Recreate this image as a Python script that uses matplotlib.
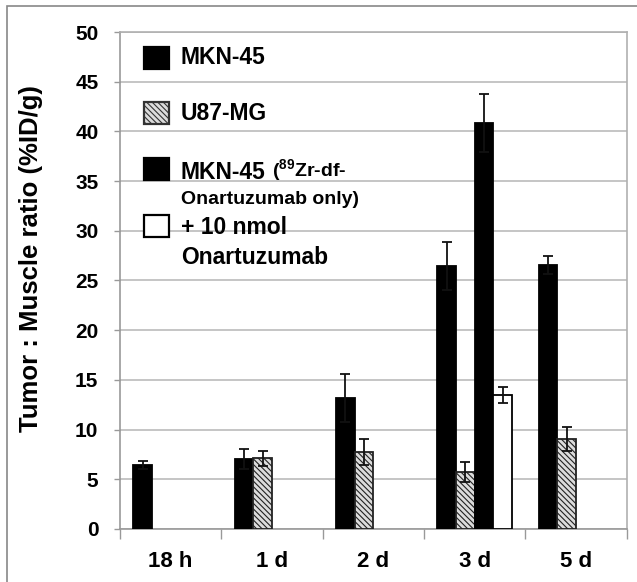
import numpy as np
import matplotlib.pyplot as plt
from matplotlib.patches import Rectangle

plt.rcParams['font.family'] = ['Liberation Sans', 'DejaVu Sans']
plt.rcParams['mathtext.fontset'] = 'custom'
plt.rcParams['mathtext.rm'] = 'Liberation Sans:bold'
plt.rcParams['mathtext.bf'] = 'Liberation Sans:bold'
plt.rcParams['hatch.linewidth'] = 0.8

groups = ['18 h', '1 d', '2 d', '3 d', '5 d']
nan = np.nan

mkn45 = [6.4, 7.0, 13.2, 26.45, 26.55]
mkn45_err = [0.4, 1.0, 2.4, 2.4, 0.9]
u87 = [nan, 7.1, 7.75, 5.7, 9.05]
u87_err = [nan, 0.75, 1.35, 1.0, 1.2]
mkn45_only = [nan, nan, nan, 40.85, nan]
mkn45_only_err = [nan, nan, nan, 2.9, nan]
blocked = [nan, nan, nan, 13.5, nan]
blocked_err = [nan, nan, nan, 0.8, nan]

fig = plt.figure(figsize=(6.37, 5.82), dpi=100)
ax = fig.add_axes([0.1884, 0.0911, 0.7954, 0.8539])

x = np.arange(len(groups))
w = 0.185
series = [
    (mkn45, mkn45_err, dict(color='black', edgecolor='black')),
    (u87, u87_err, dict(color='#dcdcdc', edgecolor='#222222', hatch='\\\\\\\\\\\\')),
    (mkn45_only, mkn45_only_err, dict(color='black', edgecolor='black')),
    (blocked, blocked_err, dict(color='white', edgecolor='black')),
]
for i, (vals, errs, st) in enumerate(series):
    pos = x - 0.2775 + w * i
    ax.bar(pos, vals, w, linewidth=1.3, zorder=3, **st)
    ax.errorbar(pos, vals, yerr=errs, fmt='none', ecolor='#111111',
                elinewidth=1.3, capsize=3.5, capthick=1.3, zorder=4)

ax.set_xlim(-0.5, 4.5)
ax.set_ylim(0, 50)
ax.set_yticks(range(0, 51, 5))
ax.set_yticklabels([str(v) for v in range(0, 51, 5)], fontsize=15, fontweight='bold')
ax.set_xticks(np.arange(-0.5, 4.6, 1.0))
ax.set_xticklabels([])
ax.set_xticks(x, minor=True)
ax.set_xticklabels(groups, minor=True, fontsize=16, fontweight='bold')
ax.tick_params(axis='x', which='minor', length=0, pad=16)
ax.tick_params(axis='x', which='major', length=7, color='#999999', width=1)
ax.tick_params(axis='y', length=4.5, color='#999999', width=1, pad=11)
ax.grid(axis='y', color='#c0c0c0', linewidth=1.3, zorder=0)
ax.set_axisbelow(True)
for s in ax.spines.values():
    s.set_color('#b0b0b0')
    s.set_linewidth(1.2)
ax.spines['left'].set_color('#999999')
ax.spines['bottom'].set_color('#999999')

ax.set_ylabel('Tumor : Muscle ratio (%ID/g)', fontsize=18.5, fontweight='bold')
ax.yaxis.set_label_coords(-0.152, 0.545)

# legend drawn by hand
def fy(yp):
    return 1 - yp / 582

def swatch(yc, **kw):
    fig.patches.append(Rectangle((144 / 637, fy(yc + 11)), 25 / 637, 22 / 582,
                                 transform=fig.transFigure, linewidth=1.6, zorder=5, **kw))

swatch(58, facecolor='black', edgecolor='black')
swatch(113, facecolor='#dcdcdc', edgecolor='#333333', hatch='\\\\\\\\\\\\')
swatch(169, facecolor='black', edgecolor='black')
swatch(226, facecolor='white', edgecolor='black')

tx = 181 / 637
big = dict(fontsize=16.5, fontweight='bold', va='center')
small = dict(fontsize=14, fontweight='bold', va='center')
fig.text(tx, fy(57), 'MKN-45', **big)
fig.text(tx, fy(113), 'U87-MG', **big)
fig.text(tx, fy(172), 'MKN-45', **big)
fig.text(272 / 637, fy(171), r'($^{89}$Zr-df-', **small)
fig.text(tx, fy(200), 'Onartuzumab only)', **small)
fig.text(tx, fy(228), '+ 10 nmol', **big)
fig.text(tx, fy(257), 'Onartuzumab', **big)

# outer frame
fig.patches.append(Rectangle((7 / 637, -0.1), 1.2, 1.1 - 6 / 582, transform=fig.transFigure,
                             fill=False, edgecolor='#888888', linewidth=1.2))

fig.savefig('out.png', dpi=100)
